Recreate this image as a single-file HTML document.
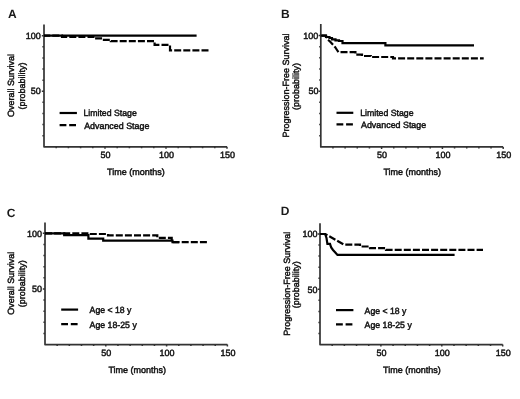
<!DOCTYPE html>
<html><head><meta charset="utf-8"><style>
html,body{margin:0;padding:0;background:#fff;}
body{width:520px;height:399px;overflow:hidden;}
svg{display:block;filter:blur(0.5px);}
text{font-family:"Liberation Sans", sans-serif;font-size:9px;text-rendering:geometricPrecision;fill:#111;stroke:#111;stroke-width:0.45px;}
.pl{font-size:12px;font-weight:bold;fill:#1a1a1a;stroke:none;}
.ax{fill:none;stroke:#333;stroke-width:1.7;stroke-linejoin:round;}
.tk{fill:none;stroke:#333;stroke-width:1.5;}
.cv{fill:none;stroke:#000;stroke-width:2.2;stroke-linejoin:miter;}
.dd{stroke-dasharray:7 2.1;}
.ld{stroke-dasharray:6.8 2.8;}
</style></head><body>
<svg width="520" height="399" viewBox="0 0 520 399">
<rect width="520" height="399" fill="#fff"/>
<path d="M44,24.5 V146.8 H227" class="ax"/>
<path d="M44,135.69 h-1.6 M44,124.58 h-1.6 M44,113.47 h-1.6 M44,102.36 h-1.6 M44,91.25 h-2.2 M44,80.14 h-1.6 M44,69.03 h-1.6 M44,57.92 h-1.6 M44,46.81 h-1.6 M44,35.70 h-2.2 M56.20,146.8 v1.5 M68.40,146.8 v1.5 M80.60,146.8 v1.5 M92.80,146.8 v1.5 M105.00,146.8 v2.0 M117.20,146.8 v1.5 M129.40,146.8 v1.5 M141.60,146.8 v1.5 M153.80,146.8 v1.5 M166.00,146.8 v2.0 M178.20,146.8 v1.5 M190.40,146.8 v1.5 M202.60,146.8 v1.5 M214.80,146.8 v1.5 M227.00,146.8 v2.0" class="tk"/>
<text x="40.8" y="38.90" text-anchor="end">100</text>
<text x="40.8" y="94.45" text-anchor="end">50</text>
<text x="105.50" y="158.3" text-anchor="middle">50</text>
<text x="166.50" y="158.3" text-anchor="middle">100</text>
<text x="227.50" y="158.3" text-anchor="middle">150</text>
<text x="135.9" y="175.2" text-anchor="middle" textLength="57.6" lengthAdjust="spacingAndGlyphs">Time (months)</text>
<text transform="translate(13.9,85.5) rotate(-90)" text-anchor="middle">Overall Survival</text>
<text transform="translate(24.8,86.0) rotate(-90)" text-anchor="middle">(probability)</text>
<text x="8" y="17.6" class="pl">A</text>
<path d="M59.6,113 H76.9" class="cv"/>
<path d="M59.6,125.1 H76.9" class="cv ld"/>
<text x="83.4" y="116.40" textLength="53.4" lengthAdjust="spacingAndGlyphs">Limited Stage</text>
<text x="84.2" y="128.50" textLength="65.2" lengthAdjust="spacingAndGlyphs">Advanced Stage</text>
<path d="M44,35.7 H62 V36.9 H94.7 V38.4 H102.7 V39.8 H110.8 V41.1 H154.6 V44.8 H170 V50.3 H208.5" class="cv dd" stroke-dashoffset="0.80"/>
<path d="M44,35.7 H196.6" class="cv"/>
<path d="M320.8,24 V146.9 H503.2" class="ax"/>
<path d="M320.8,135.76 h-1.6 M320.8,124.62 h-1.6 M320.8,113.48 h-1.6 M320.8,102.34 h-1.6 M320.8,91.20 h-2.2 M320.8,80.06 h-1.6 M320.8,68.92 h-1.6 M320.8,57.78 h-1.6 M320.8,46.64 h-1.6 M320.8,35.50 h-2.2 M332.96,146.9 v1.5 M345.12,146.9 v1.5 M357.28,146.9 v1.5 M369.44,146.9 v1.5 M381.60,146.9 v2.0 M393.76,146.9 v1.5 M405.92,146.9 v1.5 M418.08,146.9 v1.5 M430.24,146.9 v1.5 M442.40,146.9 v2.0 M454.56,146.9 v1.5 M466.72,146.9 v1.5 M478.88,146.9 v1.5 M491.04,146.9 v1.5 M503.20,146.9 v2.0" class="tk"/>
<text x="318.4" y="38.70" text-anchor="end">100</text>
<text x="318.4" y="94.40" text-anchor="end">50</text>
<text x="382.10" y="158.2" text-anchor="middle">50</text>
<text x="442.90" y="158.2" text-anchor="middle">100</text>
<text x="503.70" y="158.2" text-anchor="middle">150</text>
<text x="412.2" y="175.2" text-anchor="middle" textLength="57.6" lengthAdjust="spacingAndGlyphs">Time (months)</text>
<text transform="translate(288.6,85.5) rotate(-90)" text-anchor="middle">Progression-Free Survival</text>
<text transform="translate(299.4,86.5) rotate(-90)" text-anchor="middle">(probability)</text>
<text x="280.9" y="17.6" class="pl">B</text>
<path d="M336.5,112.8 H353.3" class="cv"/>
<path d="M336.5,124.4 H353.3" class="cv ld"/>
<text x="360.2" y="116.20" textLength="53.4" lengthAdjust="spacingAndGlyphs">Limited Stage</text>
<text x="361.0" y="127.80" textLength="65.2" lengthAdjust="spacingAndGlyphs">Advanced Stage</text>
<path d="M320.8,35.7 H326 L327.5,39.5 L330,41.5 L335,47 L337,50 L338.5,52.2 H355.4 V54.6 H362 V56 H370.8 V57 H393 V58.3 H483.7" class="cv dd" stroke-dashoffset="8.21"/>
<path d="M320.8,35.7 H326 V37 H329.5 V38 H332 V39.3 H335.5 V40.3 H339 V41 H342.5 V43.2 H385.4 V45.3 H474" class="cv"/>
<path d="M45,222.5 V344.6 H227.4" class="ax"/>
<path d="M45,333.47 h-1.6 M45,322.34 h-1.6 M45,311.21 h-1.6 M45,300.08 h-1.6 M45,288.95 h-2.2 M45,277.82 h-1.6 M45,266.69 h-1.6 M45,255.56 h-1.6 M45,244.43 h-1.6 M45,233.30 h-2.2 M57.16,344.6 v1.5 M69.32,344.6 v1.5 M81.48,344.6 v1.5 M93.64,344.6 v1.5 M105.80,344.6 v2.0 M117.96,344.6 v1.5 M130.12,344.6 v1.5 M142.28,344.6 v1.5 M154.44,344.6 v1.5 M166.60,344.6 v2.0 M178.76,344.6 v1.5 M190.92,344.6 v1.5 M203.08,344.6 v1.5 M215.24,344.6 v1.5 M227.40,344.6 v2.0" class="tk"/>
<text x="42" y="236.50" text-anchor="end">100</text>
<text x="42" y="292.15" text-anchor="end">50</text>
<text x="106.30" y="356.2" text-anchor="middle">50</text>
<text x="167.10" y="356.2" text-anchor="middle">100</text>
<text x="227.90" y="356.2" text-anchor="middle">150</text>
<text x="137.2" y="373.3" text-anchor="middle" textLength="57.6" lengthAdjust="spacingAndGlyphs">Time (months)</text>
<text transform="translate(14.2,283.3) rotate(-90)" text-anchor="middle">Overall Survival</text>
<text transform="translate(24.5,283.8) rotate(-90)" text-anchor="middle">(probability)</text>
<text x="6.8" y="216.5" class="pl">C</text>
<path d="M61.2,309.6 H78.1" class="cv"/>
<path d="M61.2,324.2 H78.1" class="cv ld"/>
<text x="89.6" y="313.00" textLength="41.8" lengthAdjust="spacingAndGlyphs">Age &lt; 18 y</text>
<text x="89.6" y="327.60" textLength="47.2" lengthAdjust="spacingAndGlyphs">Age 18-25 y</text>
<path d="M45,233.3 H88.4 V234 H108 V235.3 H157.3 V237.8 H171.7 V242.2 H207" class="cv dd" stroke-dashoffset="0.00"/>
<path d="M45,233.3 H64.2 V235.1 H88.4 V238.7 H103.2 V240.6 H172.5 V242.2 H179" class="cv"/>
<path d="M320,223.3 V344.6 H502.7" class="ax"/>
<path d="M320,333.54 h-1.6 M320,322.48 h-1.6 M320,311.42 h-1.6 M320,300.36 h-1.6 M320,289.30 h-2.2 M320,278.24 h-1.6 M320,267.18 h-1.6 M320,256.12 h-1.6 M320,245.06 h-1.6 M320,234.00 h-2.2 M332.18,344.6 v1.5 M344.36,344.6 v1.5 M356.54,344.6 v1.5 M368.72,344.6 v1.5 M380.90,344.6 v2.0 M393.08,344.6 v1.5 M405.26,344.6 v1.5 M417.44,344.6 v1.5 M429.62,344.6 v1.5 M441.80,344.6 v2.0 M453.98,344.6 v1.5 M466.16,344.6 v1.5 M478.34,344.6 v1.5 M490.52,344.6 v1.5 M502.70,344.6 v2.0" class="tk"/>
<text x="317.6" y="237.20" text-anchor="end">100</text>
<text x="317.6" y="292.50" text-anchor="end">50</text>
<text x="381.40" y="356.3" text-anchor="middle">50</text>
<text x="442.30" y="356.3" text-anchor="middle">100</text>
<text x="503.20" y="356.3" text-anchor="middle">150</text>
<text x="411.9" y="373.3" text-anchor="middle" textLength="57.6" lengthAdjust="spacingAndGlyphs">Time (months)</text>
<text transform="translate(289.8,283.8) rotate(-90)" text-anchor="middle">Progression-Free Survival</text>
<text transform="translate(298.6,284.8) rotate(-90)" text-anchor="middle">(probability)</text>
<text x="280.7" y="214.7" class="pl">D</text>
<path d="M336,310.1 H353.4" class="cv"/>
<path d="M336,324.3 H353.4" class="cv ld"/>
<text x="364.6" y="313.50" textLength="41.8" lengthAdjust="spacingAndGlyphs">Age &lt; 18 y</text>
<text x="364.6" y="327.70" textLength="47.2" lengthAdjust="spacingAndGlyphs">Age 18-25 y</text>
<path d="M320,234 H325.2 L344,244.6 H360 V246.5 H370 V248.2 H386 V249.8 H483" class="cv dd" stroke-dashoffset="8.32"/>
<path d="M320,234 H325.1 L326.5,238 L327.4,243.8 H330 L331.2,247.5 L333,250 L335.3,252.4 L337.5,254.9 H454.6" class="cv"/>
</svg>
</body></html>
